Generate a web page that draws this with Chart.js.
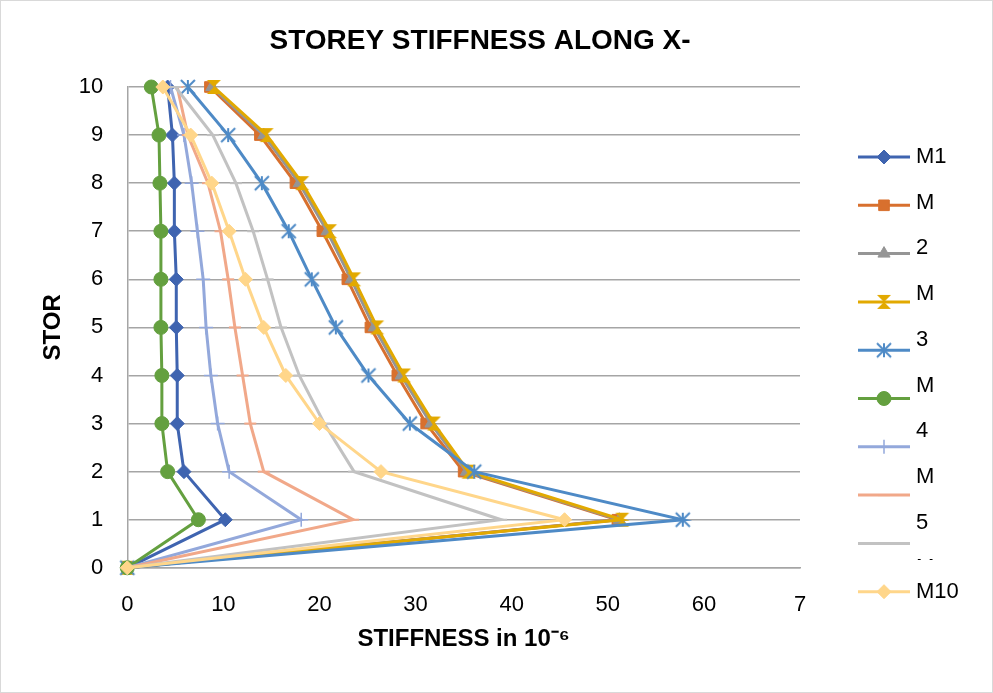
<!DOCTYPE html>
<html>
<head>
<meta charset="utf-8">
<title>Storey stiffness along X</title>
<script src="https://cdn.jsdelivr.net/npm/chart.js@4.4.1/dist/chart.umd.min.js"></script>
<style>
html, body { margin: 0; padding: 0; background: #fff; }
#wrap { width: 993px; height: 693px; }
</style>
</head>
<body>
<div id="wrap"><canvas id="chart" width="993" height="693"></canvas></div>
<script>
// storey numbers (y axis), bottom to top
const storeys = [0, 1, 2, 3, 4, 5, 6, 7, 8, 9, 10];

// stiffness values per model, same order as storeys
const m1  = [0, 10.2, 5.9, 5.2, 5.2, 5.1, 5.1, 4.9, 4.9, 4.7, 4.2];
const m2  = [0, 51.0, 35.0, 31.1, 28.1, 25.3, 22.9, 20.3, 17.5, 13.8, 8.6];
const m3  = [0, 51.2, 35.3, 31.6, 28.5, 25.7, 23.3, 20.8, 17.9, 14.2, 8.8];
const m4  = [0, 51.5, 35.5, 31.9, 28.8, 26.0, 23.6, 21.1, 18.2, 14.5, 9.0];
const m5  = [0, 57.8, 36.1, 29.4, 25.1, 21.7, 19.2, 16.8, 14.0, 10.5, 6.3];
const m6  = [0, 7.4, 4.2, 3.6, 3.6, 3.5, 3.5, 3.5, 3.4, 3.3, 2.5];
const m7  = [0, 18.1, 10.6, 9.4, 8.7, 8.2, 7.9, 7.3, 6.7, 5.9, 4.5];
const m8  = [0, 23.5, 14.2, 12.8, 12.0, 11.2, 10.5, 9.7, 8.4, 6.3, 5.2];
const m9  = [0, 38.9, 23.6, 20.5, 17.9, 16.0, 14.6, 13.1, 11.3, 8.9, 5.0];
const m10 = [0, 45.5, 26.4, 20.0, 16.5, 14.2, 12.3, 10.6, 8.8, 6.6, 3.7];

const seriesNames = ['M1', 'M2', 'M3', 'M4', 'M5', 'M6', 'M7', 'M8', 'M9', 'M10'];
const seriesValues = [m1, m2, m3, m4, m5, m6, m7, m8, m9, m10];

// x tick labels as printed (last one is cut off in the original)
const xTickLabels = ['0', '10', '20', '30', '40', '50', '60', '7'];

// legend text as it wraps in the original
const legendLines = ['M1', 'M', '2', 'M', '3', 'M', '4', 'M', '5', 'M'];
const legendLast = 'M10';

const chartTitle = 'STOREY STIFFNESS ALONG X-';

const FONT = '"Liberation Sans", Arial, sans-serif';
const colors = ['#3F64B0', '#D8702E', '#959595', '#E2A900', '#4E8AC6',
                '#64A03F', '#93A8DB', '#F1A889', '#C2C2C2', '#FFD68A'];

// Excel-like markers that chart.js doesn't have
function hourglass(r, color) {
    const c = document.createElement('canvas');
    c.width = c.height = r * 2 + 2;
    const g = c.getContext('2d');
    const o = 1;
    g.fillStyle = color;
    g.beginPath();
    g.moveTo(o, o);
    g.lineTo(o + 2 * r, o);
    g.lineTo(o, o + 2 * r);
    g.lineTo(o + 2 * r, o + 2 * r);
    g.closePath();
    g.fill();
    return c;
}

function excelStar(r, color) {
    const c = document.createElement('canvas');
    c.width = c.height = r * 2 + 4;
    const g = c.getContext('2d');
    const m = r + 2;
    g.strokeStyle = color;
    g.lineWidth = 2;
    g.beginPath();
    g.moveTo(m - r, m - r); g.lineTo(m + r, m + r);
    g.moveTo(m - r, m + r); g.lineTo(m + r, m - r);
    g.moveTo(m, m - r); g.lineTo(m, m + r);
    g.stroke();
    return c;
}

const markers = [
    { style: 'rectRot', r: 7, bw: 1 },
    { style: 'rect', r: 7.5, bw: 1 },
    { style: 'triangle', r: 7, bw: 1 },
    { style: hourglass(7, colors[3]), r: 7, bw: 1 },
    { style: excelStar(7, colors[4]), r: 7, bw: 1 },
    { style: 'circle', r: 7, bw: 1 },
    { style: 'cross', r: 7, bw: 1.5 },
    { style: 'line', r: 6, bw: 2 },
    { style: 'line', r: 6, bw: 2 },
    { style: 'rectRot', r: 7, bw: 1 }
];

const datasets = seriesNames.map((name, i) => ({
    label: name,
    data: seriesValues[i].map((v, k) => ({ x: v, y: storeys[k] })),
    showLine: true,
    clip: false,
    borderColor: colors[i],
    backgroundColor: colors[i],
    borderWidth: 3,
    pointStyle: markers[i].style,
    pointRadius: markers[i].r,
    pointBorderWidth: markers[i].bw,
    pointBorderColor: colors[i],
    pointBackgroundColor: colors[i],
    tension: 0,
    order: seriesNames.length - i
}));

const bgPlugin = {
    id: 'bg',
    beforeDraw(chart) {
        const ctx = chart.ctx;
        ctx.save();
        ctx.fillStyle = '#fff';
        ctx.fillRect(0, 0, chart.width, chart.height);
        ctx.strokeStyle = '#d9d9d9';
        ctx.lineWidth = 1;
        ctx.strokeRect(0.5, 0.5, chart.width - 1, chart.height - 1);
        ctx.restore();
    }
};

// title sits over the whole picture, not just the plot
const topTitle = {
    id: 'topTitle',
    afterDraw(chart) {
        const ctx = chart.ctx;
        ctx.save();
        ctx.fillStyle = '#000';
        ctx.font = 'bold 28px ' + FONT;
        ctx.textAlign = 'center';
        ctx.textBaseline = 'middle';
        ctx.fillText(chartTitle, 480, 41);
        ctx.restore();
    }
};

const sideLegend = {
    id: 'sideLegend',
    afterDraw(chart) {
        const ctx = chart.ctx;
        const sets = chart.data.datasets;
        ctx.save();
        sets.forEach((ds, i) => {
            const y = 157 + i * 48.3;
            ctx.strokeStyle = ds.borderColor;
            ctx.lineWidth = 3;
            ctx.beginPath();
            ctx.moveTo(858, y);
            ctx.lineTo(910, y);
            ctx.stroke();
            ctx.fillStyle = ds.pointBackgroundColor;
            ctx.strokeStyle = ds.pointBorderColor;
            ctx.lineWidth = ds.pointBorderWidth;
            Chart.helpers.drawPoint(ctx, {
                pointStyle: ds.pointStyle,
                radius: ds.pointRadius,
                borderWidth: ds.pointBorderWidth,
                rotation: 0
            }, 884, y);
        });

        ctx.fillStyle = '#000';
        ctx.font = '22px ' + FONT;
        ctx.textAlign = 'left';
        ctx.textBaseline = 'middle';
        legendLines.forEach((t, k) => {
            const y = 157 + k * 45.7;
            if (k === legendLines.length - 1) {
                // only the top of this line shows through
                ctx.save();
                ctx.beginPath();
                ctx.rect(910, 540, 80, 20);
                ctx.clip();
                ctx.fillText(t, 916, y);
                ctx.restore();
            } else {
                ctx.fillText(t, 916, y);
            }
        });
        ctx.fillText(legendLast, 916, 592);
        ctx.restore();
    }
};

new Chart(document.getElementById('chart'), {
    type: 'scatter',
    data: { datasets: datasets },
    options: {
        responsive: false,
        animation: false,
        layout: { padding: { left: 29, right: 193, top: 87, bottom: 35 } },
        plugins: {
            legend: { display: false },
            tooltip: { enabled: false },
            title: { display: false }
        },
        scales: {
            x: {
                type: 'linear',
                min: 0,
                max: 70,
                ticks: {
                    stepSize: 10,
                    color: '#000',
                    font: { family: FONT, size: 22 },
                    padding: 24,
                    maxRotation: 0,
                    callback: (v, i) => xTickLabels[i]
                },
                grid: { display: false, drawTicks: false },
                border: { display: true, color: '#a5a5a5', width: 1.5 },
                title: {
                    display: true,
                    text: 'STIFFNESS in 10⁻⁶',
                    color: '#000',
                    font: { family: FONT, size: 24, weight: 'bold' },
                    padding: { top: -17, bottom: 4 }
                }
            },
            y: {
                min: 0,
                max: 10,
                ticks: {
                    stepSize: 1,
                    color: '#000',
                    font: { family: FONT, size: 22 },
                    padding: 24
                },
                grid: { color: '#a5a5a5', lineWidth: 1.5, drawTicks: false },
                border: { display: true, color: '#a5a5a5', width: 1.5 },
                title: {
                    display: true,
                    text: 'STOR',
                    color: '#000',
                    font: { family: FONT, size: 24, weight: 'bold' },
                    padding: { top: 10, bottom: -13 }
                }
            }
        }
    },
    plugins: [bgPlugin, topTitle, sideLegend]
});
</script>
</body>
</html>
